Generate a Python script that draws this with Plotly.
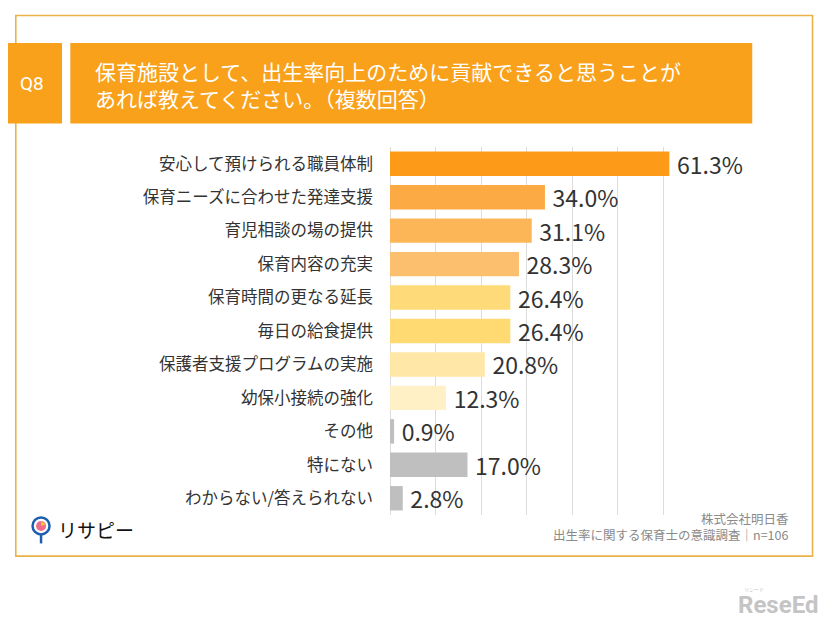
import plotly.graph_objects as go

categories = ["安心して預けられる職員体制", "保育ニーズに合わせた発達支援", "育児相談の場の提供",
              "保育内容の充実", "保育時間の更なる延長", "毎日の給食提供",
              "保護者支援プログラムの実施", "幼保小接続の強化", "その他", "特にない",
              "わからない/答えられない"]
values = [61.3, 34.0, 31.1, 28.3, 26.4, 26.4, 20.8, 12.3, 0.9, 17.0, 2.8]
colors = ["#FD9B18", "#FBAA44", "#FCB658", "#FCBF6E", "#FEDA78", "#FFDA72",
          "#FFE7A8", "#FFF0C6", "#BFBFBF", "#BFBFBF", "#BFBFBF"]
title_lines = ["保育施設として、出生率向上のために貢献できると思うことが", "あれば教えてください。（複数回答）"]
source_lines = ["株式会社明日香", "出生率に関する保育士の意識調査｜n=106"]

W, H = 826, 624
OFF = 8  # page body margin
L, R, T, B = 389.5, 709.0, 146.5, 515.5
FONT = "Noto Sans CJK JP"

def px(x):
    return (x - L) / (R - L)

def py(y):
    return (B - y) / (B - T)

fig = go.Figure(go.Bar(
    x=values, y=categories, orientation="h",
    marker=dict(color=colors, line=dict(width=0)),
    texttemplate="\u2009%{x:.1f}%", textposition="outside", cliponaxis=False,
    constraintext="none",
    textfont=dict(size=23, color="#333333", family=FONT),
))

shapes = [
    dict(type="rect", xref="paper", yref="paper", x0=px(14.7), x1=px(812.7), y0=py(14.7), y1=py(556.7),
         line=dict(color="#E9B34A", width=1.6), fillcolor="rgba(0,0,0,0)", layer="below"),
    dict(type="rect", xref="paper", yref="paper", x0=px(0), x1=px(61), y0=py(42.3), y1=py(123),
         line=dict(width=0), fillcolor="#F9A11B", layer="above"),
    dict(type="rect", xref="paper", yref="paper", x0=px(69.3), x1=px(752.3), y0=py(42.3), y1=py(123),
         line=dict(width=0), fillcolor="#F9A11B", layer="above"),
    # logo pin
    dict(type="line", xref="paper", yref="paper", x0=px(40), x1=px(40), y0=py(534), y1=py(544),
         line=dict(color="#1C5FB0", width=2.5)),
    dict(type="circle", xref="paper", yref="paper", x0=px(31.5), x1=px(48.5), y0=py(518), y1=py(535),
         line=dict(color="#1C5FB0", width=2.5), fillcolor="#FFFFFF"),
    dict(type="circle", xref="paper", yref="paper", x0=px(35), x1=px(45), y0=py(521.5), y1=py(531.5),
         line=dict(width=0), fillcolor="#F06B8A"),
    dict(type="path", xref="paper", yref="paper",
         path=f"M {px(40)},{py(526.5)} L {px(40)},{py(521.5)} L {px(44.8)},{py(525)} Z",
         line=dict(width=0), fillcolor="#F7C531"),
]

annotations = [
    dict(text="Q8", xref="paper", yref="paper", x=px(30.5), y=py(83), showarrow=False,
         font=dict(size=19, color="white", family="Roboto"), xanchor="center", yanchor="middle"),
    dict(text="<br>".join(title_lines), xref="paper", yref="paper", x=px(92), y=py(84), showarrow=False,
         font=dict(size=21, color="white", family=FONT), xanchor="left", yanchor="middle", align="left"),
    dict(text="<br>".join(source_lines), xref="paper", yref="paper", x=px(791), y=py(527.5), showarrow=False,
         font=dict(size=12.5, color="#8A8A8A", family=FONT), xanchor="right", yanchor="middle", align="right"),
    dict(text="リサピー", xref="paper", yref="paper", x=px(55), y=py(530), showarrow=False,
         font=dict(size=19, color="#111111", family=FONT), xanchor="left", yanchor="middle"),
    dict(text="<b>ReseEd</b>", xref="paper", yref="paper", x=px(820), y=py(606), showarrow=False,
         font=dict(size=24, color="#C4C4C4", family="Roboto"), xanchor="right", yanchor="middle"),
    dict(text="リシード", xref="paper", yref="paper", x=px(754), y=py(589), showarrow=False,
         font=dict(size=5, color="#C4C4C4", family=FONT), xanchor="center", yanchor="middle"),
]

fig.update_layout(
    width=W - OFF, height=H - OFF,
    margin=dict(l=L - OFF, r=W - R, t=T - OFF, b=H - B, autoexpand=False),
    paper_bgcolor="white", plot_bgcolor="white",
    bargap=0.27, showlegend=False,
    font=dict(family=FONT, color="#333333"),
    shapes=shapes, annotations=annotations,
    xaxis=dict(range=[0, 70], dtick=10, showgrid=True, gridcolor="#DCDCDC", gridwidth=1,
               zeroline=True, zerolinecolor="#DCDCDC", zerolinewidth=1,
               showticklabels=False, showline=False, fixedrange=True),
    yaxis=dict(autorange="reversed", showgrid=False, showline=False, ticks="",
               ticklabelstandoff=16, tickfont=dict(size=16.5, color="#333333", family=FONT)),
)

fig.write_html("out.html")
